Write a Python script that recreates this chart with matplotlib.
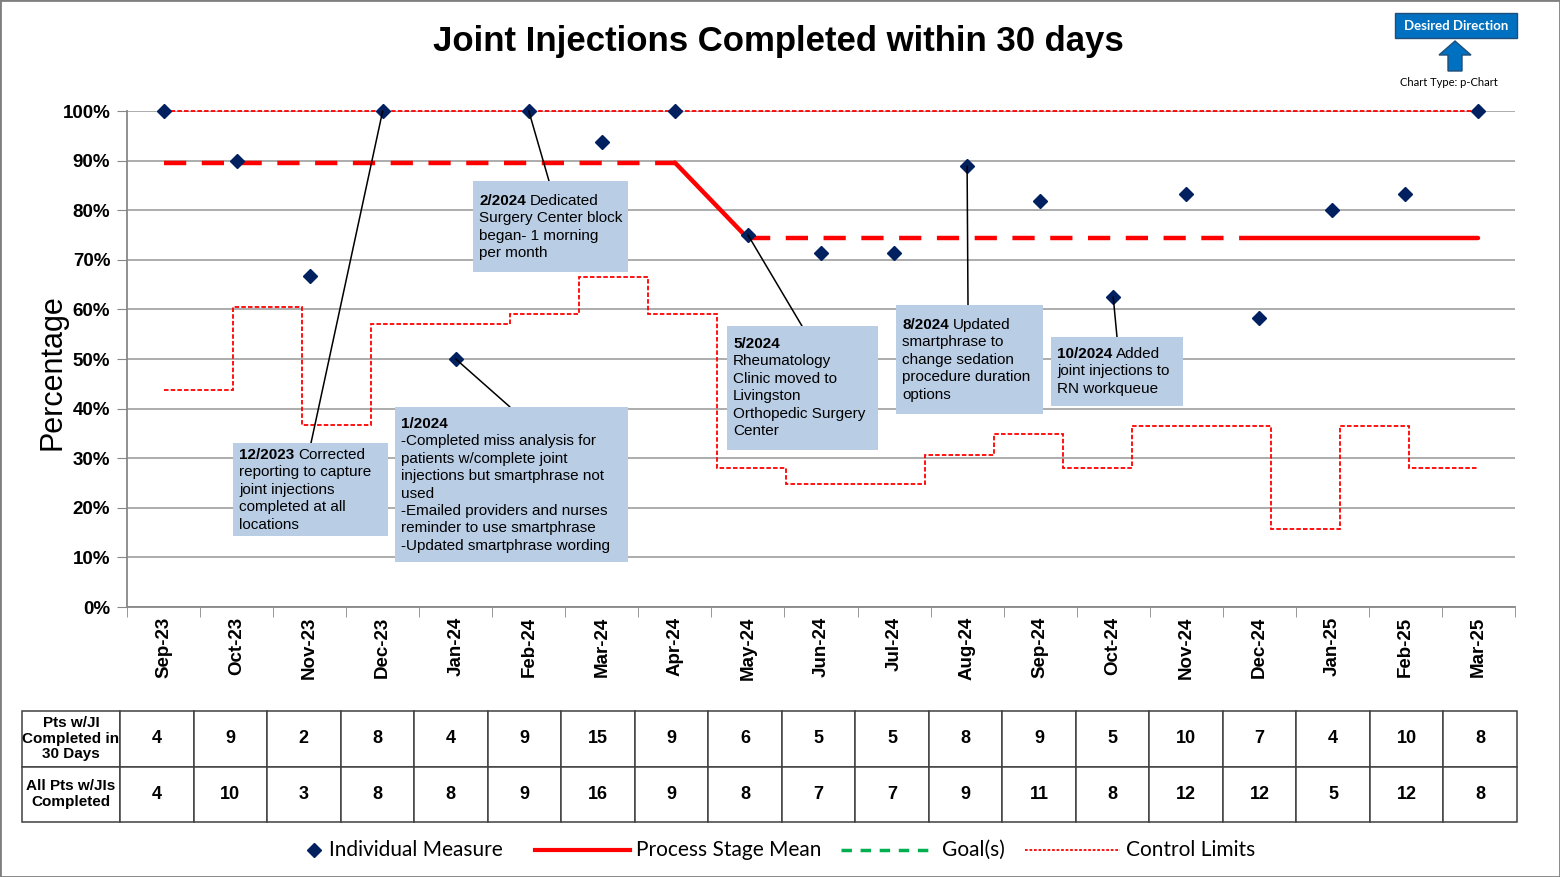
import numpy as np
import matplotlib
matplotlib.use('Agg')
import matplotlib.pyplot as plt
from matplotlib.lines import Line2D
from matplotlib.patches import Rectangle, Polygon, ConnectionPatch

plt.rcParams['font.family'] = ['Liberation Sans', 'DejaVu Sans']

months = ['Sep-23', 'Oct-23', 'Nov-23', 'Dec-23', 'Jan-24', 'Feb-24', 'Mar-24', 'Apr-24',
          'May-24', 'Jun-24', 'Jul-24', 'Aug-24', 'Sep-24', 'Oct-24', 'Nov-24', 'Dec-24',
          'Jan-25', 'Feb-25', 'Mar-25']
completed = [4, 9, 2, 8, 4, 9, 15, 9, 6, 5, 5, 8, 9, 5, 10, 7, 4, 10, 8]
total = [4, 10, 3, 8, 8, 9, 16, 9, 8, 7, 7, 9, 11, 8, 12, 12, 5, 12, 8]
stage_mean = [89.6] * 8 + [74.3] * 11
lcl = [43.7, 60.5, 36.6, 57.1, 57.1, 59.0, 66.6, 59.0, 28.0, 24.8, 24.8, 30.6,
       34.8, 28.0, 36.5, 36.5, 15.7, 36.5, 28.0]
ucl = [100] * 19
row_labels = ['Pts w/JI\nCompleted in\n30 Days', 'All Pts w/JIs\nCompleted']

# notes: (point index, box l, t, r, b, anchor x, first line y, bold prefix, rest of first line, other lines)
notes = [
    (3, 233, 443, 388, 536, 311, 455, '12/2023', 'Corrected',
     ['reporting to capture', 'joint injections', 'completed at all', 'locations']),
    (4, 395, 407, 628, 562, 510, 424, '1/2024', '',
     ['-Completed miss analysis for', 'patients w/complete joint', 'injections but smartphrase not',
      'used', '-Emailed providers and nurses', 'reminder to use smartphrase',
      '-Updated smartphrase wording']),
    (5, 473, 181, 628, 272, 549, 201, '2/2024', 'Dedicated',
     ['Surgery Center block', 'began- 1 morning', 'per month']),
    (8, 727, 326, 878, 450, 802, 344, '5/2024', '',
     ['Rheumatology', 'Clinic moved to', 'Livingston', 'Orthopedic Surgery', 'Center']),
    (11, 896, 305, 1043, 414, 968, 325, '8/2024', 'Updated',
     ['smartphrase to', 'change sedation', 'procedure duration', 'options']),
    (13, 1051, 337, 1183, 406, 1117, 354, '10/2024', 'Added',
     ['joint injections to', 'RN workqueue']),
]

W, H = 1560, 877
pct = np.array(completed) / np.array(total) * 100
x = np.arange(len(months))


def fx(px):
    return px / W


def fy(py):
    return 1 - py / H


fig = plt.figure(figsize=(15.6, 8.77), dpi=100)
ax = fig.add_axes([fx(127), fy(607), fx(1515) - fx(127), fy(111) - fy(607)])

red = '#ff0000'
navy = '#002060'

# control limits (drawn as steps spread across the series width)
edges = np.linspace(0, len(months) - 1, len(months) + 1)
ax.stairs(lcl, edges, color=red, lw=1.3, linestyle=(0, (2.5, 1.2)), baseline=None, zorder=3)
ax.stairs(ucl, edges, color=red, lw=1.3, linestyle=(0, (2.5, 1.2)), baseline=None, zorder=3, clip_on=False)

# process stage mean
dash = (0, (5, 3.5))
ax.plot(x[0:8], stage_mean[0:8], color=red, lw=3.2, linestyle=dash, zorder=4)
ax.plot(x[7:9], stage_mean[7:9], color=red, lw=3.2, solid_capstyle='round', zorder=4)
ax.plot(x[8:16], stage_mean[8:16], color=red, lw=3.2, linestyle=dash, zorder=4)
ax.plot(x[15:], stage_mean[15:], color=red, lw=3.2, solid_capstyle='round', zorder=4)

# individual measure
ax.plot(x, pct, linestyle='none', marker='D', ms=7.5, color=navy, zorder=6, clip_on=False)

ax.set_xlim(-0.5, len(months) - 0.5)
ax.set_ylim(0, 100)
ax.set_yticks(np.arange(0, 101, 10))
ax.set_yticklabels([f'{v}%' for v in range(0, 101, 10)], fontsize=13.5, fontweight='bold')
ax.set_xticks(x)
ax.set_xticklabels(months, rotation=90, fontsize=13.5, fontweight='bold', va='top')
ax.set_xticks(np.arange(-0.5, len(months)), minor=True)
ax.tick_params(axis='x', which='major', length=0, pad=7)
ax.tick_params(axis='x', which='minor', length=7, color='#878787', direction='out')
ax.tick_params(axis='y', length=7, color='#878787', pad=5)
ax.grid(axis='y', color='#a6a6a6', lw=1.3, zorder=0)
ax.set_axisbelow(True)
for s in ['top', 'right']:
    ax.spines[s].set_visible(False)
for s in ['left', 'bottom']:
    ax.spines[s].set_color('#878787')
    ax.spines[s].set_linewidth(1.3)

fig.text(fx(53), fy(372), 'Percentage', fontsize=22, rotation=90, ha='center', va='center')
fig.text(fx(778), fy(42), 'Joint Injections Completed within 30 days', fontsize=25,
         fontweight='bold', ha='center', va='center')

# annotation boxes
box_color = '#b9cde5'
for idx, l, t, r, b, ax_x, y0, bold, rest, lines in notes:
    con = ConnectionPatch(xyA=(x[idx], pct[idx]), coordsA=ax.transData,
                          xyB=(fx(ax_x), fy(t)), coordsB=fig.transFigure,
                          color='black', lw=1.1, zorder=1)
    fig.add_artist(con)
    fig.add_artist(Rectangle((fx(l), fy(b)), fx(r) - fx(l), fy(t) - fy(b),
                             transform=fig.transFigure, facecolor=box_color,
                             edgecolor='none', zorder=2))
    tb = fig.text(fx(l + 6), fy(y0), bold, fontsize=11, fontweight='bold',
                  ha='left', va='center', zorder=3)
    if rest:
        fig.add_artist(matplotlib.text.Annotation(
            rest, xy=(1, 0.5), xycoords=tb, xytext=(3, 0), textcoords='offset points',
            fontsize=11, ha='left', va='center', zorder=3))
    for k, line in enumerate(lines):
        fig.text(fx(l + 6), fy(y0 + 17.4 * (k + 1)), line, fontsize=11,
                 ha='left', va='center', zorder=3)

# data table
tax = fig.add_axes([fx(22), fy(822), fx(1517) - fx(22), fy(711) - fy(822)])
tax.axis('off')
cells = [[row_labels[0]] + [str(v) for v in completed],
         [row_labels[1]] + [str(v) for v in total]]
widths = [98] + [(1517 - 120) / len(months)] * len(months)
widths = [w / sum(widths) for w in widths]
tbl = tax.table(cellText=cells, colWidths=widths, bbox=[0, 0, 1, 1], cellLoc='center')
tbl.auto_set_font_size(False)
for (r, c), cell in tbl.get_celld().items():
    cell.set_edgecolor('#404040')
    cell.set_linewidth(1.1)
    txt = cell.get_text()
    if c == 0:
        txt.set_fontsize(11)
        txt.set_linespacing(1.15)
    else:
        txt.set_fontsize(13)
    txt.set_fontweight('bold')

# legend drawn by hand
ly = fy(850)
fig.add_artist(Line2D([fx(314)], [ly], marker='D', ms=7.5, color=navy, linestyle='none'))
fig.add_artist(Line2D([fx(535), fx(630)], [ly, ly], color=red, lw=3))
fig.add_artist(Line2D([fx(841), fx(936)], [ly, ly], color='#00b050', lw=2.5, linestyle=(0, (3, 2.5))))
fig.add_artist(Line2D([fx(1025), fx(1120)], [ly, ly], color=red, lw=1.3, linestyle=(0, (1.5, 1))))
for px, label in [(329, 'Individual Measure'), (636, 'Process Stage Mean'),
                  (942, 'Goal(s)'), (1126, 'Control Limits')]:
    fig.text(fx(px), ly, label, fontsize=15, family='Lato', ha='left', va='center')

# desired direction badge
blue = '#0070c0'
fig.add_artist(Rectangle((fx(1395), fy(38)), fx(1517) - fx(1395), fy(13) - fy(38),
                         transform=fig.transFigure, facecolor=blue, edgecolor='#1f4e79', lw=1))
fig.text(fx(1456), fy(26), 'Desired Direction', color='white', fontsize=9.5,
         family='Lato', fontweight='bold', ha='center', va='center')
arrow_px = [(1448, 71), (1448, 55), (1439, 55), (1455, 41), (1471, 55), (1462, 55), (1462, 71)]
fig.add_artist(Polygon([(fx(a), fy(b)) for a, b in arrow_px], closed=True,
                       transform=fig.transFigure, facecolor=blue, edgecolor='#1f4e79', lw=1))
fig.text(fx(1449), fy(83), 'Chart Type: p-Chart', fontsize=8, family='Lato',
         ha='center', va='center')

# outer border
fig.add_artist(Rectangle((0, 0), 1, 1, transform=fig.transFigure, fill=False,
                         edgecolor='#7f7f7f', lw=2))

fig.savefig('out.png', dpi=100)
